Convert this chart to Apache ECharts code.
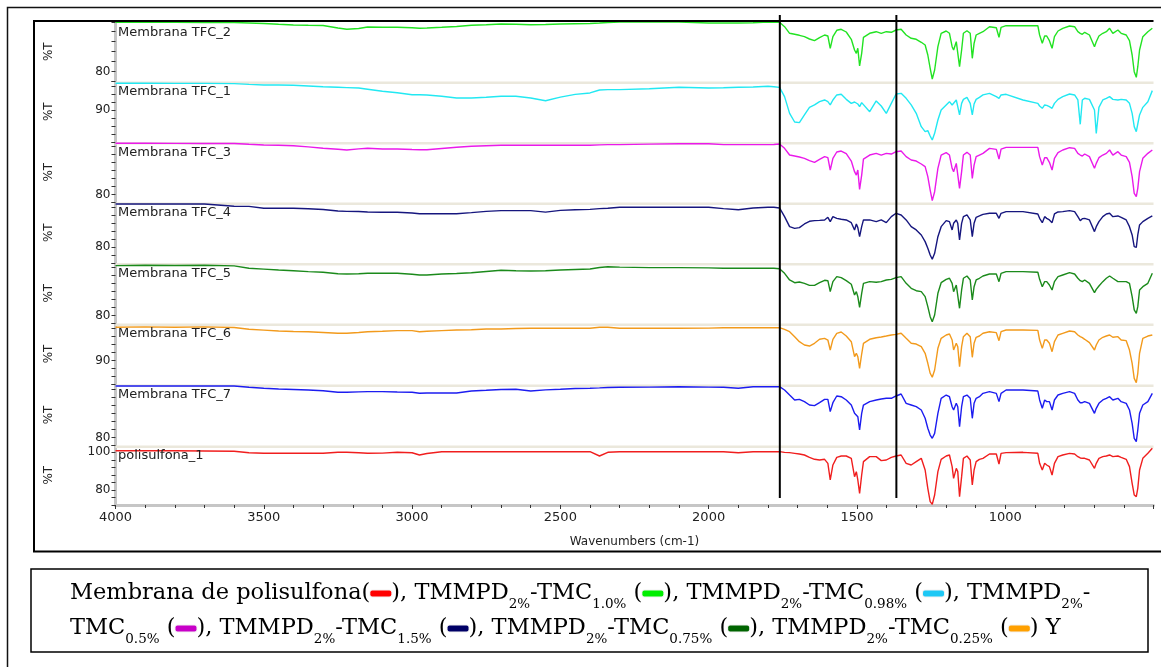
<!DOCTYPE html>
<html>
<head>
<meta charset="utf-8">
<script src="https://cdn.jsdelivr.net/npm/echarts@6/dist/echarts.min.js"></script>
<style>
html,body{margin:0;padding:0;background:#fff;}
#c{width:1161px;height:667px;}
</style>
</head>
<body>
<div id="c"></div>
<script>
// ---------------- DATA ----------------
// wavenumbers (cm-1), broad region and fingerprint region
const broadWN = [4000, 3900, 3800, 3700, 3600, 3550, 3500, 3450, 3400, 3350, 3300,
  3250, 3220, 3180, 3150, 3100, 3050, 3000, 2975, 2950, 2900,
  2850, 2800, 2750, 2700, 2650, 2600, 2550, 2500, 2450, 2400, 2368,
  2340, 2300, 2200, 2100, 2000, 1950, 1900, 1850, 1800, 1780];
const fpWN = [1761, 1744, 1727, 1710, 1694, 1677, 1660, 1643, 1626, 1609,
  1598, 1590, 1581, 1568, 1553, 1536, 1519, 1508, 1502, 1497,
  1491, 1484, 1478, 1457, 1435, 1418, 1401, 1384, 1368, 1351,
  1334, 1317, 1300, 1283, 1270, 1261, 1253, 1246, 1238, 1227,
  1216, 1199, 1188, 1179, 1174, 1165, 1160, 1154, 1147, 1141,
  1129, 1118, 1111, 1105, 1098, 1087, 1075, 1053, 1030, 1021,
  1014, 997, 940, 890, 884, 875, 867, 860, 851, 842,
  834, 822, 806, 783, 766, 755, 747, 740, 732, 716,
  699, 693, 684, 671, 659, 648, 637, 620, 609, 592,
  581, 572, 565, 558, 553, 547, 536, 519, 504];

// %T values, Membrana TFC_2
const tfc2Broad = [84.92, 84.92, 84.92, 84.9, 84.9, 84.85, 84.8, 84.72, 84.65, 84.62, 84.6,
  84.35, 84.22, 84.3, 84.45, 84.42, 84.42, 84.38, 84.32, 84.35, 84.42,
  84.5, 84.62, 84.68, 84.75, 84.72, 84.68, 84.7, 84.75, 84.78, 84.8, 84.85,
  84.9, 84.95, 84.95, 84.95, 84.85, 84.85, 84.85, 84.88, 84.95, 84.93];
const tfc2Fp = [84.92, 84.48, 83.82, 83.72, 83.62, 83.48, 83.25, 83.08, 83.38, 83.65,
  83.55, 82.32, 83.48, 84.12, 84.22, 83.95, 83.22, 82.15, 81.82, 82.32,
  80.55, 81.82, 83.42, 83.82, 83.98, 83.82, 83.98, 83.92, 84.15, 84.22,
  83.65, 83.32, 83.22, 82.92, 82.65, 81.65, 80.32, 79.25, 80.15, 82.48,
  83.82, 84.05, 83.82, 82.48, 82.15, 82.98, 82.82, 80.48, 82.15, 83.82,
  84.08, 83.82, 81.32, 82.82, 83.65, 83.82, 83.98, 84.48, 84.38, 83.42,
  84.42, 84.58, 84.58, 84.58, 83.65, 82.82, 83.55, 83.55, 83.08, 82.32,
  83.48, 84.05, 84.32, 84.55, 84.48, 83.98, 83.82, 83.72, 83.92, 83.65,
  82.48, 82.98, 83.55, 83.82, 83.98, 84.32, 83.82, 84.15, 83.82, 83.65,
  83.08, 81.65, 79.98, 79.42, 80.48, 82.15, 83.48, 83.98, 84.32];

// Membrana TFC_1
const tfc1Broad = [93.34, 93.34, 93.33, 93.32, 93.3, 93.2, 93.13, 93.13, 93.1, 93.0, 92.9,
  92.84, 92.8, 92.75, 92.6, 92.35, 92.15, 91.91, 91.9, 91.88, 91.71,
  91.5, 91.5, 91.59, 91.71, 91.71, 91.5, 91.16, 91.6, 91.95, 92.13, 92.5,
  92.54, 92.54, 92.66, 92.84, 92.75, 92.78, 92.84, 92.88, 92.96, 92.9];
const tfc1Fp = [92.83, 91.67, 89.58, 88.50, 88.42, 89.38, 90.33, 90.63, 91.04, 91.25,
  91.04, 90.63, 91.25, 91.88, 91.96, 91.33, 90.83, 91.00, 91.04, 90.75,
  90.42, 90.92, 91.04, 89.79, 91.13, 90.50, 89.58, 90.83, 92.00, 92.08,
  91.46, 90.63, 89.58, 87.92, 87.29, 87.42, 86.75, 86.25, 87.08, 88.75,
  90.00, 90.63, 91.04, 90.63, 90.50, 91.25, 90.42, 89.38, 90.83, 91.33,
  91.58, 90.83, 89.38, 90.75, 91.33, 91.58, 91.88, 92.08, 91.67, 91.46,
  91.88, 91.96, 91.25, 90.83, 90.50, 90.21, 90.63, 90.58, 90.42, 90.21,
  90.83, 91.33, 91.67, 92.00, 91.88, 91.25, 88.21, 91.25, 91.46, 91.33,
  90.00, 87.08, 90.33, 91.25, 91.46, 91.67, 91.33, 91.25, 91.33, 91.25,
  90.83, 89.58, 87.92, 87.29, 88.25, 89.38, 90.33, 91.04, 92.42];

// Membrana TFC_3
const tfc3Broad = [86.4, 86.4, 86.39, 86.38, 86.38, 86.28, 86.19, 86.15, 86.1, 85.95, 85.78,
  85.65, 85.56, 85.7, 85.78, 85.69, 85.68, 85.62, 85.6, 85.6, 85.75,
  85.9, 86.03, 86.1, 86.15, 86.15, 86.15, 86.15, 86.15, 86.15, 86.15, 86.2,
  86.23, 86.23, 86.3, 86.35, 86.35, 86.23, 86.23, 86.23, 86.23, 86.25];
const tfc3Fp = [86.31, 85.77, 84.93, 84.81, 84.68, 84.52, 84.23, 84.02, 84.39, 84.73,
  84.60, 83.06, 84.52, 85.31, 85.43, 85.10, 84.18, 82.85, 82.43, 83.06,
  80.64, 82.43, 84.43, 84.93, 85.14, 84.93, 85.14, 85.06, 85.35, 85.43,
  84.73, 84.31, 84.18, 83.81, 83.48, 82.23, 80.56, 79.23, 80.35, 83.27,
  84.93, 85.23, 84.93, 83.27, 82.85, 83.89, 83.68, 80.77, 82.85, 84.93,
  85.27, 84.93, 82.02, 83.68, 84.73, 84.93, 85.14, 85.77, 85.64, 84.43,
  85.68, 85.89, 85.89, 85.89, 84.73, 83.68, 84.60, 84.60, 84.02, 83.06,
  84.52, 85.23, 85.56, 85.85, 85.77, 85.14, 84.93, 84.81, 85.06, 84.73,
  83.27, 83.89, 84.60, 84.93, 85.14, 85.56, 84.93, 85.35, 84.93, 84.73,
  84.02, 82.23, 80.14, 79.73, 80.77, 82.85, 84.52, 85.14, 85.56];

// Membrana TFC_4
const tfc4Broad = [85.38, 85.38, 85.38, 85.38, 85.1, 85.08, 84.84, 84.84, 84.84, 84.78, 84.69,
  84.5, 84.45, 84.44, 84.38, 84.34, 84.34, 84.25, 84.16, 84.16, 84.16,
  84.16, 84.3, 84.45, 84.54, 84.54, 84.54, 84.36, 84.58, 84.66, 84.7, 84.79,
  84.85, 84.96, 84.96, 84.96, 84.96, 84.79, 84.66, 84.88, 84.96, 84.96];
const tfc4Fp = [84.88, 83.79, 82.54, 82.33, 82.42, 82.88, 83.21, 83.29, 83.33, 83.38,
  83.71, 83.17, 83.79, 83.58, 83.46, 83.38, 83.04, 82.13, 82.88, 82.42,
  81.29, 82.54, 83.38, 83.38, 83.17, 83.38, 83.04, 83.79, 84.21, 84.00,
  83.38, 82.54, 82.13, 81.50, 80.67, 79.83, 79.00, 78.46, 79.21, 81.29,
  82.54, 83.29, 83.17, 82.13, 82.96, 83.38, 82.96, 80.88, 82.96, 83.79,
  84.00, 83.38, 81.29, 82.96, 83.71, 83.88, 84.08, 84.21, 84.21, 83.58,
  84.21, 84.42, 84.42, 84.13, 83.58, 83.04, 83.79, 83.58, 83.38, 83.04,
  84.13, 84.38, 84.42, 84.54, 84.42, 83.79, 83.29, 83.54, 83.58, 83.38,
  81.92, 82.54, 83.17, 83.79, 84.13, 84.21, 83.79, 83.88, 83.71, 83.38,
  82.54, 81.50, 80.04, 79.96, 81.50, 82.75, 83.17, 83.58, 83.88];

// Membrana TFC_5
const tfc5Broad = [86.23, 86.28, 86.25, 86.28, 86.2, 85.9, 85.8, 85.69, 85.6, 85.48, 85.4,
  85.22, 85.19, 85.22, 85.28, 85.28, 85.28, 85.15, 85.06, 85.06, 85.19,
  85.25, 85.35, 85.5, 85.65, 85.6, 85.56, 85.6, 85.69, 85.75, 85.81, 86.0,
  86.1, 86.05, 85.98, 85.98, 85.95, 85.9, 85.9, 85.9, 85.9, 85.9];
const tfc5Fp = [85.85, 85.27, 84.44, 84.10, 84.19, 84.02, 83.77, 83.77, 84.10, 84.40,
  84.35, 82.98, 84.23, 84.85, 84.73, 84.35, 83.90, 82.56, 82.98, 82.35,
  81.02, 82.77, 84.02, 84.23, 84.15, 84.23, 84.44, 84.52, 84.73, 84.85,
  84.02, 83.40, 83.10, 82.98, 82.35, 81.10, 79.85, 79.23, 80.06, 82.77,
  84.10, 84.52, 84.65, 84.02, 82.98, 83.81, 83.60, 80.90, 83.19, 84.65,
  84.94, 84.44, 81.94, 83.60, 84.44, 84.65, 84.94, 85.19, 85.19, 84.23,
  85.27, 85.48, 85.48, 85.40, 84.52, 83.60, 84.23, 84.23, 83.81, 83.19,
  84.23, 84.85, 85.06, 85.35, 85.19, 84.65, 84.35, 84.23, 84.44, 84.02,
  82.85, 83.27, 83.69, 84.23, 84.65, 84.94, 84.65, 84.23, 84.23, 84.23,
  84.02, 82.35, 80.69, 80.27, 81.10, 83.19, 83.60, 84.02, 85.27];

// Membrana TFC_6
const tfc6Broad = [94.15, 94.2, 94.15, 94.2, 94.12, 93.9, 93.8, 93.69, 93.62, 93.6, 93.5,
  93.4, 93.4, 93.5, 93.6, 93.65, 93.73, 93.73, 93.6, 93.65, 93.73,
  93.81, 93.85, 93.94, 93.94, 94.0, 94.03, 94.03, 94.03, 94.03, 94.03, 94.15,
  94.15, 94.03, 94.03, 94.03, 94.05, 94.1, 94.1, 94.1, 94.1, 94.1];
const tfc6Fp = [94.10, 93.90, 93.60, 92.98, 92.35, 91.94, 91.81, 92.15, 92.65, 92.77,
  92.56, 91.31, 92.65, 93.40, 93.56, 93.06, 92.35, 90.48, 90.90, 90.48,
  89.02, 90.81, 92.15, 92.65, 92.85, 92.94, 93.06, 93.19, 93.27, 93.40,
  92.77, 92.15, 92.06, 91.73, 90.90, 89.65, 88.40, 87.90, 88.81, 91.52,
  92.77, 93.19, 93.31, 92.56, 91.31, 92.15, 91.73, 89.23, 91.73, 92.98,
  93.40, 92.98, 90.40, 92.15, 92.90, 93.06, 93.40, 93.60, 93.48, 92.48,
  93.60, 93.81, 93.81, 93.77, 92.56, 91.52, 92.56, 92.56, 92.15, 91.10,
  92.35, 93.19, 93.40, 93.69, 93.60, 93.19, 92.98, 92.85, 92.65, 92.23,
  91.31, 91.94, 92.56, 92.90, 93.06, 93.19, 92.90, 92.98, 92.56, 92.48,
  91.31, 89.65, 87.77, 87.23, 88.40, 90.90, 92.77, 93.06, 93.19];

// Membrana TFC_7
const tfc7Broad = [86.44, 86.44, 86.44, 86.44, 86.44, 86.28, 86.15, 86.06, 86.0, 85.94, 85.85,
  85.65, 85.65, 85.7, 85.73, 85.73, 85.68, 85.65, 85.53, 85.56, 85.56,
  85.56, 85.81, 85.9, 86.0, 86.03, 85.81, 85.95, 86.03, 86.12, 86.15, 86.2,
  86.25, 86.28, 86.3, 86.35, 86.3, 86.28, 86.15, 86.35, 86.35, 86.35];
const tfc7Fp = [86.35, 85.94, 85.31, 84.69, 84.77, 84.48, 84.06, 83.98, 84.35, 84.77,
  84.77, 83.23, 84.35, 85.19, 85.10, 84.69, 84.06, 83.02, 83.23, 82.60,
  80.94, 83.02, 84.06, 84.48, 84.69, 84.81, 84.90, 84.90, 85.19, 85.44,
  84.27, 84.06, 83.85, 83.44, 82.40, 81.15, 80.31, 79.90, 80.52, 83.02,
  84.90, 85.31, 85.10, 83.85, 83.44, 84.27, 83.85, 81.35, 83.85, 85.10,
  85.31, 84.90, 82.40, 84.27, 84.90, 85.10, 85.52, 85.73, 85.52, 84.48,
  85.52, 85.94, 85.94, 85.81, 84.69, 83.65, 84.69, 84.48, 84.48, 83.44,
  84.69, 85.31, 85.52, 85.73, 85.52, 84.69, 84.35, 84.35, 84.48, 84.27,
  83.02, 83.65, 84.27, 84.69, 84.90, 85.10, 84.69, 84.90, 84.48, 84.27,
  83.44, 81.77, 79.90, 79.48, 80.94, 83.02, 84.06, 84.48, 85.52];

// polisulfona_1
const psfBroad = [100.88, 100.88, 100.88, 100.7, 100.56, 99.8, 99.5, 99.5, 99.5, 99.5, 99.5,
  100.03, 100.03, 99.8, 99.5, 99.6, 100.03, 99.8, 98.6, 99.4, 100.35,
  100.35, 100.35, 100.35, 100.35, 100.35, 100.35, 100.35, 100.35, 100.35, 100.35, 98.06,
  100.03, 100.35, 100.35, 100.35, 100.35, 100.35, 99.82, 100.35, 100.35, 100.35];
const psfFp = [100.37, 100.02, 99.84, 99.49, 99.13, 98.60, 97.36, 96.30, 95.94, 96.30,
  94.17, 85.30, 93.28, 97.36, 98.07, 98.07, 96.83, 87.08, 89.74, 85.30,
  78.21, 87.96, 95.05, 97.71, 97.71, 95.59, 95.94, 97.36, 98.07, 98.60,
  94.17, 93.28, 95.05, 96.83, 90.62, 80.87, 73.78, 72.36, 77.33, 89.74,
  96.30, 98.07, 98.60, 92.40, 86.19, 91.51, 89.74, 76.44, 87.08, 96.83,
  98.07, 95.94, 82.64, 90.62, 95.05, 96.30, 96.83, 99.13, 99.13, 93.81,
  99.49, 99.84, 100.02, 99.49, 94.17, 90.62, 94.17, 93.28, 92.40, 87.96,
  94.17, 97.71, 98.60, 99.49, 99.13, 97.71, 97.01, 96.83, 96.83, 95.94,
  91.51, 94.17, 96.83, 97.71, 98.07, 98.60, 97.71, 98.07, 97.36, 96.30,
  92.40, 83.53, 77.33, 76.44, 80.87, 90.62, 96.83, 99.49, 102.15];

const panelNames = ['Membrana TFC_2', 'Membrana TFC_1', 'Membrana TFC_3', 'Membrana TFC_4',
  'Membrana TFC_5', 'Membrana TFC_6', 'Membrana TFC_7', 'polisulfona_1'];
const yTickLabels = [[80], [90], [80], [80], [80], [90], [80], [80, 100]];
const xTickLabels = [4000, 3500, 3000, 2500, 2000, 1500, 1000];
const markerWN = [1760, 1367];

// ---------------- STYLE / LAYOUT ----------------
const spectra = [
  [tfc2Broad, tfc2Fp], [tfc1Broad, tfc1Fp], [tfc3Broad, tfc3Fp], [tfc4Broad, tfc4Fp],
  [tfc5Broad, tfc5Fp], [tfc6Broad, tfc6Fp], [tfc7Broad, tfc7Fp], [psfBroad, psfFp]
];
const colors = ['#22e322', '#22e8f2', '#ea1aea', '#16167e', '#1b8a1b', '#f29a1c', '#1c1cf0', '#f01e1e'];
const gridTop = [22, 81.5, 142, 202.5, 263, 323.5, 384.5, 445.5];
const gridBottom = [81.5, 142, 202.5, 263, 323.5, 384.5, 445.5, 505];
const yMin = [79, 86, 79, 78, 79, 87, 79, 72];
const yMax = [84.95, 93.56, 86.56, 85.56, 86.56, 94.625, 86.625, 103.65];
const yStep = [1, 1, 1, 1, 1, 1, 1, 4];
const SANS = 'DejaVu Sans';
const SERIF = 'DejaVu Serif';

function buildData(b, f) {
  return broadWN.map((w, i) => [w, b[i]]).concat(fpWN.map((w, i) => [w, f[i]]));
}

const grids = [], xAxes = [], yAxes = [], series = [];
for (let i = 0; i < 8; i++) {
  const h = gridBottom[i] - gridTop[i];
  grids.push({left: 115.5, right: 7.5, top: gridTop[i], height: h, containLabel: false, outerBoundsMode: 'none'});
  const last = i === 7;
  xAxes.push({
    type: 'value', gridIndex: i, min: 500, max: 4000, interval: 500, inverse: true,
    show: last,
    axisLine: {show: true, onZero: false, lineStyle: {color: '#c6c6c6', width: 3}},
    axisTick: {show: true, length: 4, lineStyle: {color: '#333', width: 1}},
    minorTick: {show: true, splitNumber: 5, length: 3, lineStyle: {color: '#333', width: 1}},
    splitLine: {show: false}, minorSplitLine: {show: false},
    axisLabel: {
      show: true, margin: 6, fontFamily: SANS, fontSize: 13, color: '#222',
      formatter: v => xTickLabels.indexOf(v) >= 0 ? String(v) : ''
    },
    name: last ? 'Wavenumbers (cm-1)' : '', nameLocation: 'middle', nameGap: 31,
    nameTextStyle: {fontFamily: SANS, fontSize: 12, color: '#222'}
  });
  const labs = yTickLabels[i];
  yAxes.push({
    type: 'value', gridIndex: i, min: yMin[i], max: yMax[i], interval: yStep[i],
    axisLine: {show: true, lineStyle: {color: '#c6c6c6', width: 3}},
    axisTick: {show: true, length: 4, lineStyle: {color: '#333', width: 1}},
    splitLine: {show: false},
    axisLabel: {
      show: true, margin: 5, fontFamily: SANS, fontSize: 12, color: '#222',
      showMinLabel: true, showMaxLabel: true,
      formatter: v => labs.some(t => Math.abs(t - v) < 1e-6) ? String(Math.round(v)) : ''
    },
    name: '%T', nameLocation: 'middle', nameRotate: 90, nameGap: 61,
    nameTextStyle: {fontFamily: SANS, fontSize: 12, color: '#222'}
  });
  const s = {
    type: 'line', name: panelNames[i], xAxisIndex: i, yAxisIndex: i,
    data: buildData(spectra[i][0], spectra[i][1]),
    showSymbol: false, symbol: 'none', silent: true, clip: true,
    lineStyle: {color: colors[i], width: 1.4}, itemStyle: {color: colors[i]},
    z: 3
  };
  if (i > 0) {
    const band = (yMax[i] - yMin[i]) * 2.6 / h;
    s.markArea = {
      silent: true, label: {show: false},
      itemStyle: {color: '#ebe8dc'},
      data: [[{yAxis: yMax[i] - band}, {yAxis: yMax[i]}]]
    };
  }
  series.push(s);
}

const sw = c => ({width: 21, height: 6, backgroundColor: c, borderRadius: 2, borderColor: '#f2f2f2', borderWidth: 1});
const legendText =
  '{n|Membrana de polisulfona(}{r| }{n|), TMMPD}{s|2%}{n|-TMC}{s|1.0%}{n| (}{g| }{n|), TMMPD}{s|2%}{n|-TMC}{s|0.98%}{n| (}{c| }{n|), TMMPD}{s|2%}{n|-}\n' +
  '{n|TMC}{s|0.5%}{n| (}{m| }{n|), TMMPD}{s|2%}{n|-TMC}{s|1.5%}{n| (}{b| }{n|), TMMPD}{s|2%}{n|-TMC}{s|0.75%}{n| (}{d| }{n|), TMMPD}{s|2%}{n|-TMC}{s|0.25%}{n| (}{o| }{n|) Y}';

const option = {
  animation: false,
  backgroundColor: '#ffffff',
  title: {
    left: 70, top: 576, padding: 0, text: legendText,
    textStyle: {
      fontFamily: SERIF, fontSize: 22.5, fontWeight: 'normal', color: '#000', lineHeight: 35,
      rich: {
        n: {fontFamily: SERIF, fontSize: 22.5, color: '#000', lineHeight: 35},
        s: {fontFamily: SERIF, fontSize: 13.5, color: '#000', lineHeight: 30, verticalAlign: 'bottom'},
        r: sw('#ff0000'), g: sw('#00ee00'), c: sw('#1ec8f5'), m: sw('#c800c8'),
        b: sw('#000066'), d: sw('#006400'), o: sw('#ffa000')
      }
    }
  },
  grid: grids, xAxis: xAxes, yAxis: yAxes, series: series
};

const chart = echarts.init(document.getElementById('c'));
chart.setOption(option);

const graphics = [
  {type: 'rect', silent: true, z: 20, shape: {x: 7.5, y: 7.5, width: 1200, height: 700},
    style: {fill: 'none', stroke: '#111', lineWidth: 1.5}},
  {type: 'polyline', silent: true, z: 20, shape: {points: [[1200, 551.5], [34, 551.5], [34, 21], [1153.5, 21]]},
    style: {fill: 'none', stroke: '#000', lineWidth: 2}},
  {type: 'rect', silent: true, z: 20, shape: {x: 31, y: 569, width: 1117, height: 83},
    style: {fill: 'none', stroke: '#000', lineWidth: 1.5}}
];
markerWN.forEach(w => {
  const px = chart.convertToPixel({xAxisIndex: 0}, w);
  graphics.push({type: 'line', silent: true, z: 20,
    shape: {x1: px, y1: 15, x2: px, y2: 498}, style: {stroke: '#000', lineWidth: 2}});
});
panelNames.forEach((nm, i) => {
  graphics.push({type: 'text', silent: true, z: 15, left: 118, top: gridTop[i] + 4,
    style: {text: nm, fontFamily: SANS, fontSize: 13, fill: '#222'}});
});
chart.setOption({graphic: graphics});
</script>
</body>
</html>
